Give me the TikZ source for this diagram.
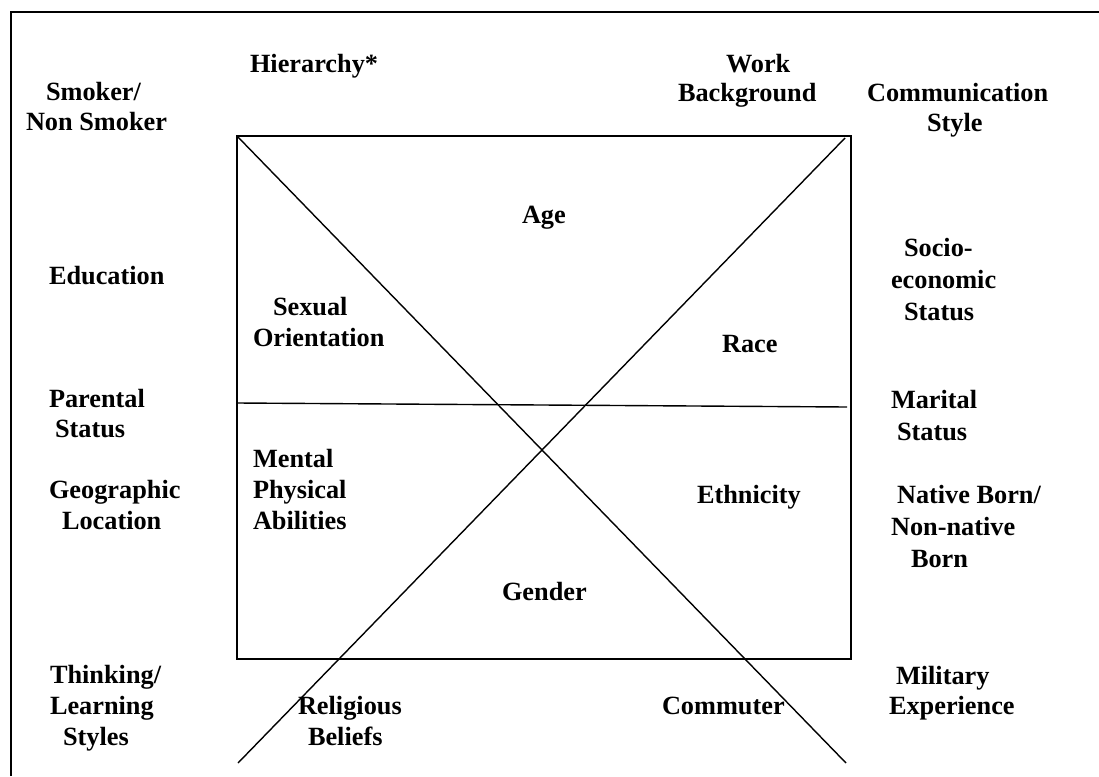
\documentclass[tikz,border=0pt]{standalone}
\usepackage{fontspec}
\setmainfont{Liberation Serif}
\begin{document}
\begin{tikzpicture}[x=1pt,y=-1pt,
  lbl/.style={anchor=base west,inner sep=0pt,outer sep=0pt,font=\fontsize{26.3}{30}\selectfont\bfseries},
  frame/.style={line width=2pt},
  boxline/.style={line width=2pt},
  crossline/.style={line width=1.4pt}]
\useasboundingbox (0,0) rectangle (1099,776);
% outer frame (only top and left edges visible)
\coordinate (fBL) at (11,776);
\coordinate (fTL) at (11,12);
\coordinate (fTR) at (1099,12);
\draw[frame] (fBL) -- (fTL) -- (fTR);
% central box
\coordinate (bTL) at (237,136);
\coordinate (bBR) at (851,659);
\draw[boxline] (bTL) rectangle (bBR);
% crossing lines
\coordinate (d1s) at (237,136);
\coordinate (d1e) at (846,763);
\coordinate (d2s) at (845,138);
\coordinate (d2e) at (238,763);
\coordinate (hs) at (237,403);
\coordinate (he) at (847,407);
\draw[crossline] (d1s) -- (d1e);
\draw[crossline] (d2s) -- (d2e);
\draw[crossline] (hs) -- (he);
% labels
\node[lbl] (hier) at (250,72) {Hierarchy*};
\node[lbl] (work1) at (726,72) {Work};
\node[lbl] (work2) at (678,101) {Background};
\node[lbl] (comm1) at (867,101) {Communication};
\node[lbl] (comm2) at (927,131) {Style};
\node[lbl] (smok1) at (46,100) {Smoker/};
\node[lbl] (smok2) at (26,130) {Non Smoker};
\node[lbl] (age) at (522,223) {Age};
\node[lbl] (edu) at (49,284) {Education};
\node[lbl] (soc1) at (904,256) {Socio-};
\node[lbl] (soc2) at (891,288) {economic};
\node[lbl] (soc3) at (904,320) {Status};
\node[lbl] (sex1) at (273,315) {Sexual};
\node[lbl] (sex2) at (253,346) {Orientation};
\node[lbl] (race) at (722,352) {Race};
\node[lbl] (par1) at (49,407) {Parental};
\node[lbl] (par2) at (55,437) {Status};
\node[lbl] (mar1) at (891,408) {Marital};
\node[lbl] (mar2) at (897,440) {Status};
\node[lbl] (men1) at (253,467) {Mental};
\node[lbl] (men2) at (253,498) {Physical};
\node[lbl] (men3) at (253,529) {Abilities};
\node[lbl] (geo1) at (49,498) {Geographic};
\node[lbl] (geo2) at (62,529) {Location};
\node[lbl] (eth) at (697,503) {Ethnicity};
\node[lbl] (nat1) at (897,503) {Native Born/};
\node[lbl] (nat2) at (891,535) {Non-native};
\node[lbl] (nat3) at (911,567) {Born};
\node[lbl] (gen) at (502,600) {Gender};
\node[lbl] (thk1) at (50,683) {Thinking/};
\node[lbl] (thk2) at (50,714) {Learning};
\node[lbl] (thk3) at (63,745) {Styles};
\node[lbl] (rel1) at (298,714) {Religious};
\node[lbl] (rel2) at (308,745) {Beliefs};
\node[lbl] (comu) at (662,714) {Commuter};
\node[lbl] (mil1) at (896,684) {Military};
\node[lbl] (mil2) at (889,714) {Experience};
\end{tikzpicture}
\end{document}
